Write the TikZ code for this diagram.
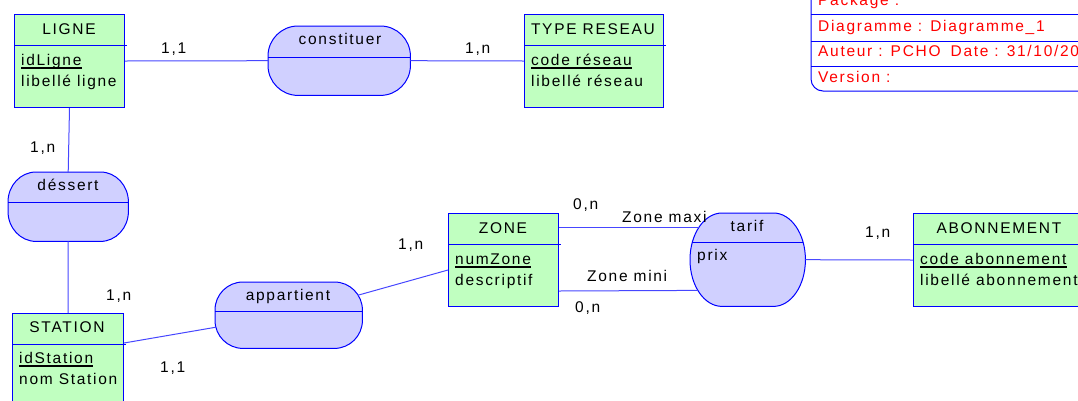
\documentclass[tikz,border=0pt]{standalone}
\usepackage{fontspec}
\setmainfont{Liberation Sans}[LetterSpace=11]
\usetikzlibrary{calc}
\definecolor{entfill}{RGB}{192,255,192}
\definecolor{assfill}{RGB}{208,208,255}
\definecolor{linecol}{RGB}{0,0,255}
\definecolor{conncol}{RGB}{70,70,255}
\definecolor{titlered}{RGB}{255,0,0}
% association outline with elliptical corners: node, x radius, y radius
\newcommand\ellbox[3]{%
  \pgfmathsetmacro\ellka{#2*0.4477}%
  \pgfmathsetmacro\ellkb{#3*0.4477}%
  \filldraw[assocline] ($(#1.north west)+(#2,0)$) -- ($(#1.north east)+(-#2,0)$)
    .. controls ($(#1.north east)+(-\ellka,0)$) and ($(#1.north east)+(0,\ellkb)$) .. ($(#1.north east)+(0,#3)$)
    -- ($(#1.south east)+(0,-#3)$)
    .. controls ($(#1.south east)+(0,-\ellkb)$) and ($(#1.south east)+(-\ellka,0)$) .. ($(#1.south east)+(-#2,0)$)
    -- ($(#1.south west)+(#2,0)$)
    .. controls ($(#1.south west)+(\ellka,0)$) and ($(#1.south west)+(0,-\ellkb)$) .. ($(#1.south west)+(0,-#3)$)
    -- ($(#1.north west)+(0,#3)$)
    .. controls ($(#1.north west)+(0,\ellkb)$) and ($(#1.north west)+(\ellka,0)$) .. cycle;}
\begin{document}
\begin{tikzpicture}[x=1pt,y=-1pt,
 every node/.style={font=\fontsize{15.5}{18}\selectfont},
 entity/.style={draw=linecol, line width=1pt, fill=entfill, rectangle, anchor=north west, inner sep=0},
 assoc/.style={rectangle, anchor=north west, inner sep=0},
 assocline/.style={draw=linecol, line width=1pt, fill=assfill},
 divider/.style={draw=linecol, line width=0.9pt},
 conn/.style={draw=conncol, line width=1pt},
 txt/.style={inner sep=0, anchor=base},
 ltxt/.style={inner sep=0, anchor=base west},
 card/.style={inner sep=0, anchor=base west},
 keyline/.style={line width=1.3pt, black},
 ttl/.style={inner sep=0, anchor=base west, text=titlered}]
\useasboundingbox (0,0) rectangle (1078,400);

% title block
\draw[draw=linecol, line width=1pt, rounded corners=12pt] (811,-5) -- (811,91) -- (1090,91);
\draw[draw=linecol, line width=1pt] (811,14) -- (1090,14);
\draw[draw=linecol, line width=1pt] (811,41) -- (1090,41);
\draw[draw=linecol, line width=1pt] (811,66) -- (1090,66);
\node[ttl] (tpackage) at (818,5) {Package :};
\node[ttl] (tdiag) at (818,31) {Diagramme : Diagramme\_1};
\node[ttl] (tauteur) at (818,56) {Auteur : PCHO\hspace{10pt}Date : 31/10/200};
\node[ttl] (tversion) at (818,82) {Version :};

% entities
\node[entity, minimum width=110pt, minimum height=93pt] (ligne) at (14,14) {};
\node[entity, minimum width=139pt, minimum height=93pt] (typereseau) at (524,14) {};
\node[entity, minimum width=111pt, minimum height=100pt] (station) at (12,313) {};
\node[entity, minimum width=110pt, minimum height=93pt] (zone) at (448,213) {};
\node[entity, minimum width=172pt, minimum height=93pt] (abonnement) at (913,213) {};
\foreach \n in {ligne,typereseau,station,zone,abonnement}
  \draw[divider] ($(\n.north west)+(0,31)$) -- ($(\n.north east)+(2,31)$);

% associations
\node[assoc, minimum width=142pt, minimum height=69pt] (constituer) at (268,26) {};
\node[assoc, minimum width=120pt, minimum height=69pt] (dessert) at (8,172) {};
\node[assoc, minimum width=147pt, minimum height=66pt] (appartient) at (215,282) {};
\node[assoc, minimum width=115pt, minimum height=93pt] (tarif) at (690,213) {};
\ellbox{constituer}{30}{30}
\ellbox{dessert}{28}{30}
\ellbox{appartient}{28}{28}
\ellbox{tarif}{32}{46.5}
\draw[divider] ($(constituer.north west)+(0,31)$) -- ($(constituer.north east)+(0,31)$);
\draw[divider] ($(dessert.north west)+(0,30)$) -- ($(dessert.north east)+(0,30)$);
\draw[divider] ($(appartient.north west)+(0,29)$) -- ($(appartient.north east)+(0,29)$);
\draw[divider] ($(tarif.north west)+(2.3,29)$) -- ($(tarif.north east)+(-2.3,29)$);

% connectors
\draw[conn] (ligne.east) -- (constituer.west);
\draw[conn] (constituer.east) -- (typereseau.west);
\draw[conn] (ligne.south) -- (dessert.north);
\draw[conn] (dessert.south) -- (station.north);
\draw[conn] ($(station.north east)+(0,30)$) -- ($(appartient.west)+(0.9,12)$);
\draw[conn] ($(appartient.east)+(-4.4,-20)$) -- ($(zone.west)+(0,10)$);
\draw[conn] ($(zone.north east)+(0,14)$) -- ($(tarif.north west)+(9,14)$);
\draw[conn] ($(zone.south east)+(0,-16)$) -- ($(tarif.south west)+(7.8,-16)$);
\draw[conn] (tarif.east) -- (abonnement.west);

% entity texts
\node[txt] (tligne) at (69,34) {LIGNE};
\node[ltxt] (aidligne) at (21,65) {idLigne};
\node[ltxt] (alibligne) at (21,86) {libellé ligne};
\node[txt] (ttype) at (593,34) {TYPE RESEAU};
\node[ltxt] (acodres) at (531,65) {code réseau};
\node[ltxt] (alibres) at (531,86) {libellé réseau};
\node[txt] (tstation) at (67,332) {STATION};
\node[ltxt] (aidstation) at (19,363) {idStation};
\node[ltxt] (anomstation) at (19,384) {nom Station};
\node[txt] (tzone) at (503,233) {ZONE};
\node[ltxt] (anumzone) at (455,264) {numZone};
\node[ltxt] (adescr) at (455,285) {descriptif};
\node[txt] (tabon) at (999,233) {ABONNEMENT};
\node[ltxt] (acodabon) at (920,264) {code abonnement};
\node[ltxt] (alibabon) at (920,285) {libellé abonnement};
\foreach \k in {aidligne,acodres,aidstation,anumzone,acodabon}
  \draw[keyline] ([yshift=-3pt]\k.base west) -- ([yshift=-3pt]\k.base east);

% association texts
\node[txt] (tconst) at (340,44) {constituer};
\node[txt] (tdessert) at (68,190) {déssert};
\node[txt] (tappart) at (288,300) {appartient};
\node[txt] (ttarif) at (747,231) {tarif};
\node[ltxt] (aprix) at (697,260) {prix};

% cardinalities and role labels
\node[card] (c1) at (161,53) {1,1};
\node[card] (c2) at (465,53) {1,n};
\node[card] (c3) at (30,152) {1,n};
\node[card] (c4) at (106,300) {1,n};
\node[card] (c5) at (160,372) {1,1};
\node[card] (c6) at (398,249) {1,n};
\node[card] (c7) at (573,209) {0,n};
\node[card] (rmaxi) at (622,222) {Zone maxi};
\node[card] (rmini) at (587,281) {Zone mini};
\node[card] (c8) at (575,312) {0,n};
\node[card] (c9) at (865,237) {1,n};
\end{tikzpicture}
\end{document}
